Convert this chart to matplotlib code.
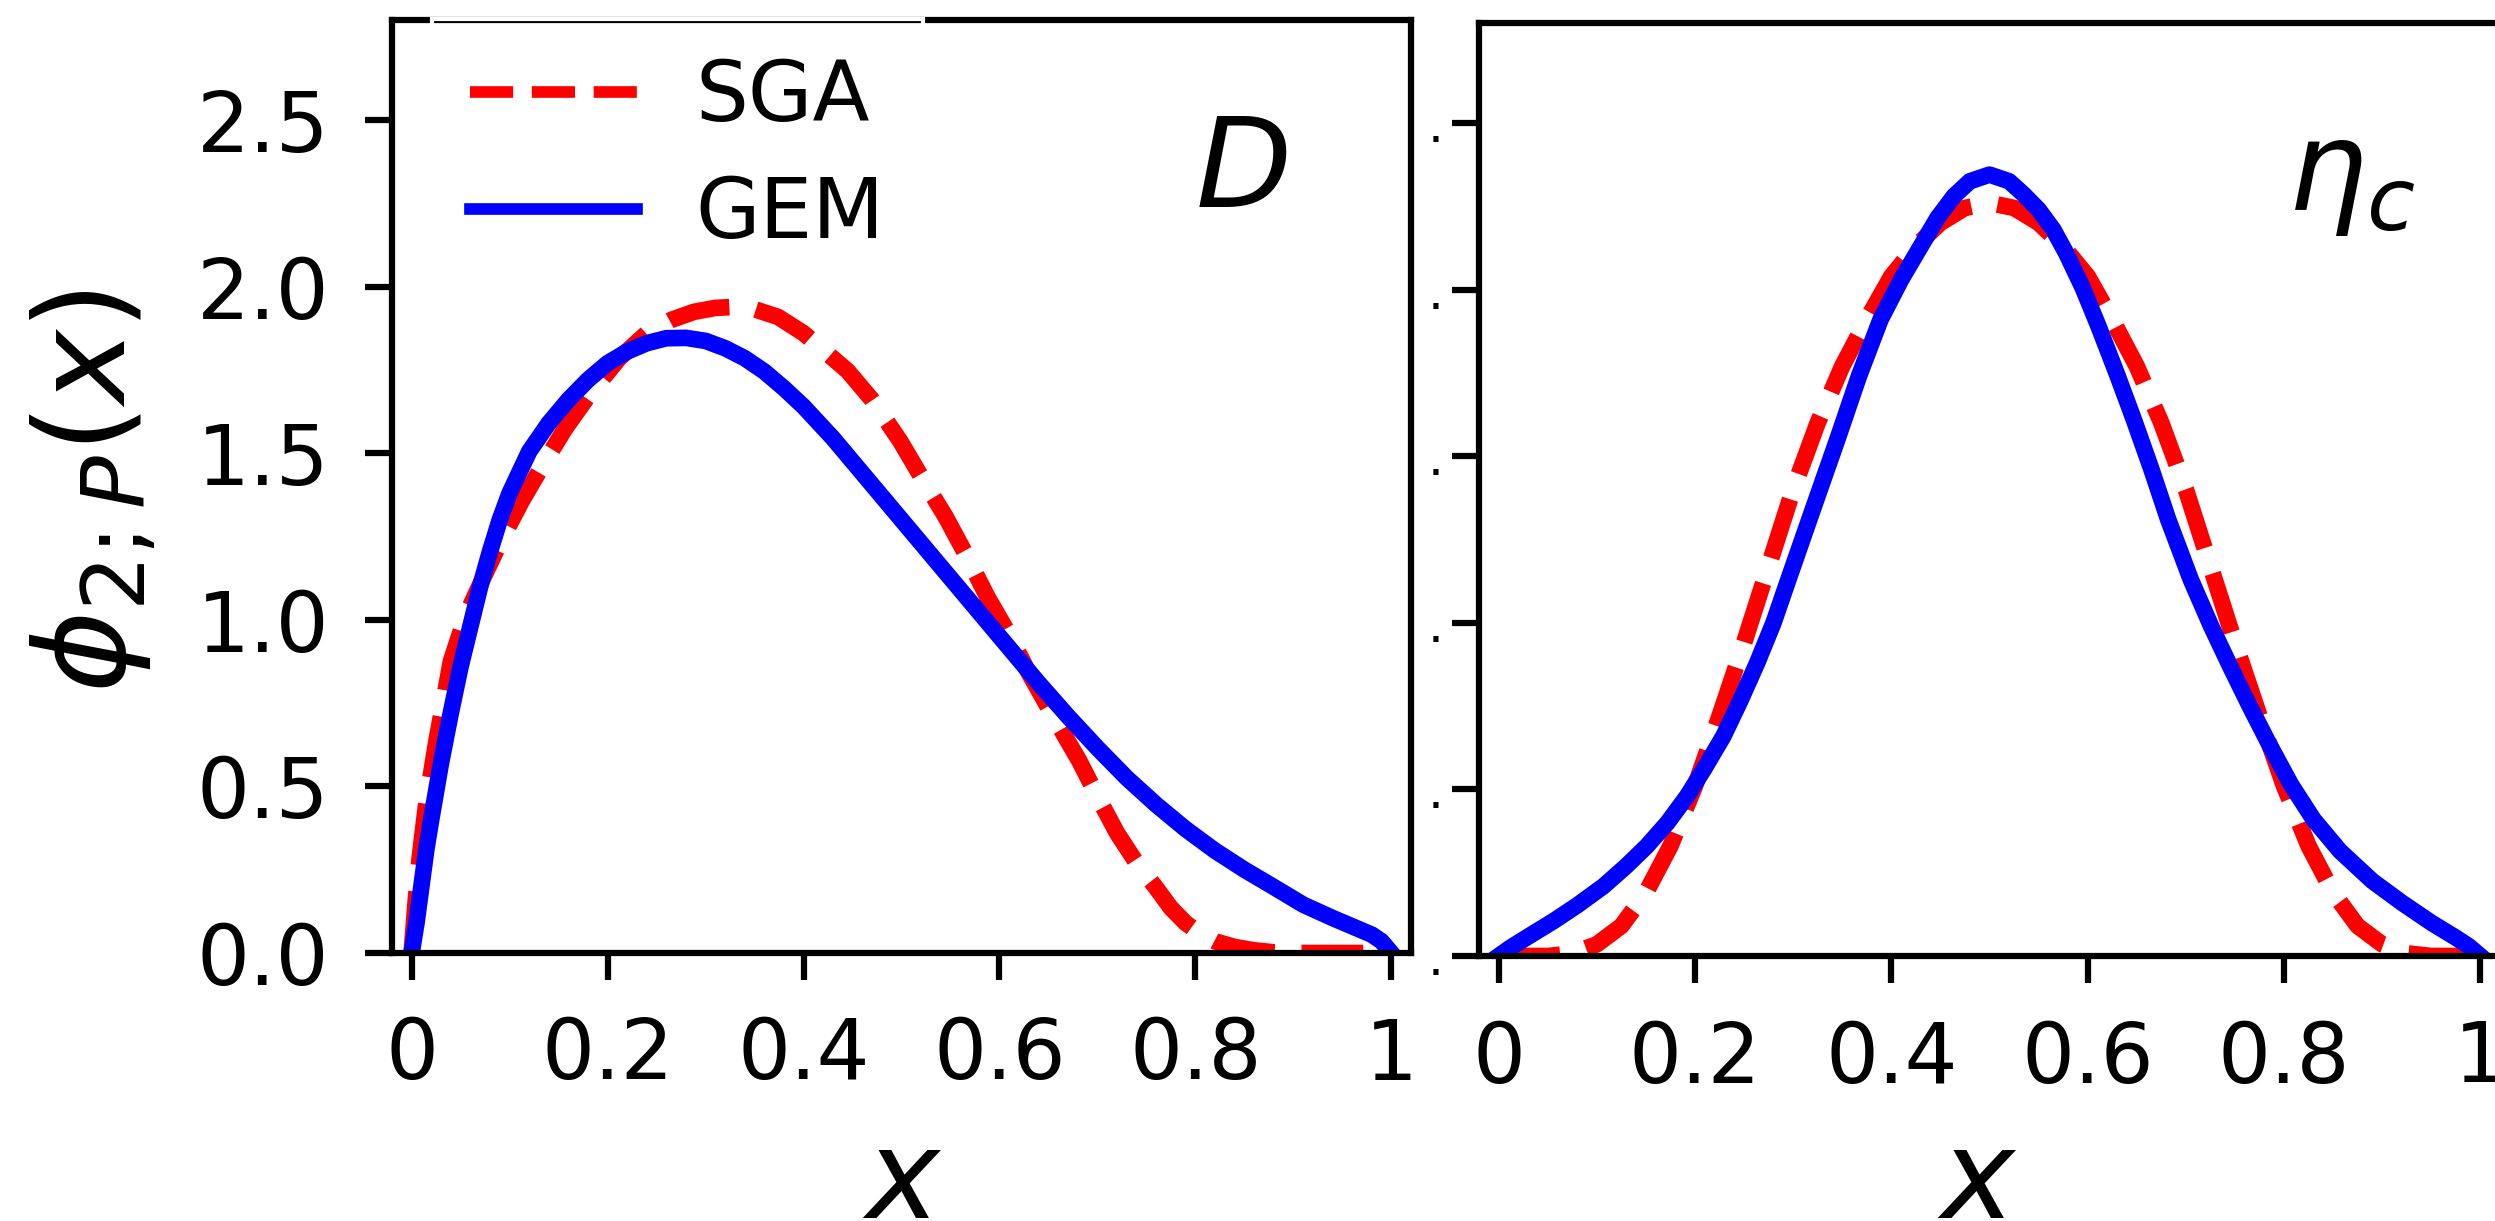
import matplotlib
matplotlib.use("Agg")
import matplotlib.pyplot as plt

# D meson (left panel)
x_D_sga = [0, 0.004, 0.008, 0.015, 0.025, 0.04, 0.055, 0.072, 0.09, 0.112, 0.135,
           0.157, 0.18, 0.212, 0.24, 0.265, 0.288, 0.31, 0.33, 0.35, 0.374, 0.40,
           0.42, 0.445, 0.47, 0.4985, 0.52, 0.545, 0.565, 0.5876, 0.61, 0.63, 0.655,
           0.681, 0.70, 0.72, 0.74, 0.759, 0.775, 0.79, 0.805, 0.82, 0.84, 0.86,
           0.88, 0.9, 1.0]
y_D_sga = [0, 0.15, 0.28, 0.45, 0.63, 0.874, 1.01, 1.119, 1.23, 1.354, 1.47,
           1.575, 1.67, 1.785, 1.86, 1.90, 1.924, 1.936, 1.939, 1.932, 1.909, 1.86,
           1.81, 1.747, 1.66, 1.537, 1.43, 1.309, 1.20, 1.069, 0.955, 0.84, 0.71,
           0.579, 0.47, 0.36, 0.27, 0.199, 0.135, 0.09, 0.058, 0.035, 0.018, 0.008,
           0.002, 0.0, 0.0]
x_D_gem = [0, 0.005, 0.01, 0.015, 0.02, 0.03, 0.04, 0.05, 0.06, 0.07, 0.08, 0.09,
           0.10, 0.12, 0.14, 0.16, 0.18, 0.20, 0.22, 0.24, 0.26, 0.28, 0.30, 0.32,
           0.34, 0.36, 0.38, 0.40, 0.43, 0.46, 0.49, 0.52, 0.55, 0.58, 0.61, 0.64,
           0.67, 0.70, 0.73, 0.76, 0.79, 0.82, 0.85, 0.88, 0.91, 0.94, 0.96, 0.98,
           0.99, 1.0]
y_D_gem = [0, 0.09, 0.20, 0.31, 0.40, 0.57, 0.72, 0.86, 0.98, 1.10, 1.205, 1.30,
           1.38, 1.505, 1.59, 1.66, 1.72, 1.77, 1.805, 1.83, 1.845, 1.846, 1.837,
           1.815, 1.785, 1.745, 1.695, 1.64, 1.545, 1.44, 1.335, 1.23, 1.125, 1.02,
           0.915, 0.81, 0.71, 0.615, 0.525, 0.445, 0.372, 0.307, 0.25, 0.198, 0.145,
           0.105, 0.08, 0.055, 0.035, 0.0]

# eta_c (right panel)
x_eta_sga = [0, 0.05, 0.075, 0.1, 0.125, 0.15, 0.175, 0.2, 0.225, 0.25, 0.275, 0.3,
             0.325, 0.35, 0.375, 0.4, 0.425, 0.45, 0.475, 0.5, 0.525, 0.55, 0.575,
             0.6, 0.625, 0.65, 0.675, 0.7, 0.725, 0.75, 0.775, 0.8, 0.825, 0.85,
             0.875, 0.9, 0.925, 0.95, 1.0]
y_eta_sga = [0, 0, 0.008, 0.035, 0.09, 0.19, 0.33, 0.51, 0.72, 0.94, 1.17, 1.40,
             1.60, 1.77, 1.91, 2.04, 2.13, 2.20, 2.245, 2.26, 2.245, 2.20, 2.13,
             2.04, 1.91, 1.77, 1.60, 1.40, 1.17, 0.94, 0.72, 0.51, 0.33, 0.19,
             0.09, 0.035, 0.008, 0, 0]
x_eta_gem = [0, 0.012, 0.03, 0.056, 0.08, 0.107, 0.13, 0.151, 0.172, 0.192, 0.21,
             0.229, 0.246, 0.2634, 0.28, 0.294, 0.32, 0.345, 0.367, 0.389, 0.41,
             0.43, 0.447, 0.4636, 0.48, 0.5, 0.52, 0.535, 0.55, 0.565, 0.578, 0.595,
             0.611, 0.63, 0.647, 0.665, 0.682, 0.705, 0.7257, 0.745, 0.765, 0.785,
             0.807, 0.83, 0.857, 0.89, 0.92, 0.95, 0.975, 0.988, 1.0]
y_eta_gem = [0, 0.025, 0.058, 0.105, 0.152, 0.21, 0.27, 0.33, 0.40, 0.48, 0.565,
             0.66, 0.765, 0.88, 1.00, 1.12, 1.34, 1.55, 1.74, 1.91, 2.03,
             2.13, 2.215, 2.28, 2.325, 2.345, 2.325, 2.285, 2.24, 2.18, 2.11, 2.005,
             1.89, 1.745, 1.61, 1.46, 1.31, 1.13, 0.99, 0.87, 0.75, 0.635,
             0.515, 0.41, 0.315, 0.225, 0.16, 0.10, 0.055, 0.03, 0.0]

xticks = [0, 0.2, 0.4, 0.6, 0.8, 1.0]
xtick_labels = ['0', '0.2', '0.4', '0.6', '0.8', '1']
yticks = [0.0, 0.5, 1.0, 1.5, 2.0, 2.5]
ytick_labels = ['0.0', '0.5', '1.0', '1.5', '2.0', '2.5']

W, H = 2495, 1221
fig = plt.figure(figsize=(W / 300, H / 300), dpi=300)
ax1 = fig.add_axes([392 / W, 1 - 953 / H, 1019 / W, 933 / H])
ax2 = fig.add_axes([1479 / W, 1 - 956 / H, 1021 / W, 933 / H])


def style_axes(ax):
    ax.set_xlim(-0.02, 1.02)
    ax.set_ylim(0, 2.8)
    for s in ax.spines.values():
        s.set_linewidth(1.5)
    ax.tick_params(direction='out', length=6.5, width=1.5, pad=8.5,
                   labelsize=20, top=False, right=False)
    ax.set_xticks(xticks, xtick_labels)
    ax.set_xlabel('$x$', fontsize=30, va='top')


style_axes(ax1)
style_axes(ax2)

ax1.plot(x_D_sga, y_D_sga, color='red', linestyle='--', linewidth=4, label='SGA')
ax1.plot(x_D_gem, y_D_gem, color='blue', linestyle='-', linewidth=4, label='GEM')
ax2.plot(x_eta_sga, y_eta_sga, color='red', linestyle='--', linewidth=4)
ax2.plot(x_eta_gem, y_eta_gem, color='blue', linestyle='-', linewidth=4)

ax1.set_yticks(yticks, ytick_labels)
ax2.set_yticks(yticks, ['.'] * len(yticks), fontsize=12)
ax2.tick_params(axis='y', pad=2)

ax1.set_ylabel(r'$\phi_{2;P}(x)$', fontsize=30)
ax1.yaxis.set_label_coords(-0.2306, 0.4946)
ax1.xaxis.set_label_coords(0.5005, -0.182)
ax2.xaxis.set_label_coords(0.488, -0.179)

ax1.text(0.833, 0.80, '$D$', transform=ax1.transAxes, fontsize=30,
         ha='center', va='baseline')
ax2.text(0.854, 0.80, r'$\eta_c$', transform=ax2.transAxes, fontsize=30,
         ha='center', va='baseline')

leg = ax1.legend(loc='upper left', bbox_to_anchor=(0.039, 1.0016), borderaxespad=0,
                 borderpad=0.46, handletextpad=0.7, fontsize=20, labelspacing=0.43,
                 fancybox=False, framealpha=1, facecolor='none', edgecolor='white')
for line in leg.get_lines():
    line.set_linewidth(2.8)

fig.savefig('out.png', dpi=300)
